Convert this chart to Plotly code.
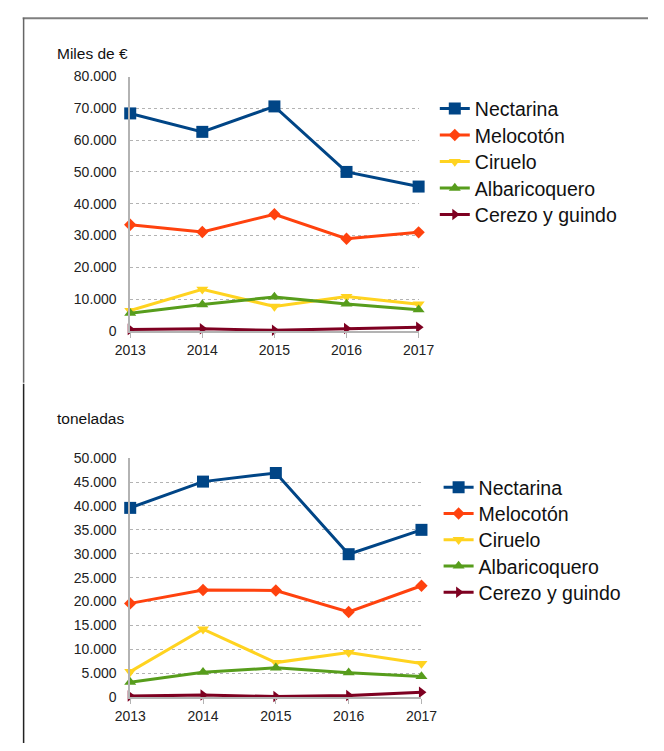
import plotly.graph_objects as go

years = [2013, 2014, 2015, 2016, 2017]
series_names = ["Nectarina", "Melocotón", "Ciruelo", "Albaricoquero", "Cerezo y guindo"]

# Miles de €
valor_nectarina = [68400, 62600, 70600, 50000, 45400]
valor_melocoton = [33400, 31100, 36700, 29000, 31000]
valor_ciruelo = [6400, 13100, 7700, 10800, 8400]
valor_albaricoquero = [5600, 8300, 10700, 8500, 6700]
valor_cerezo = [500, 700, 200, 800, 1200]

# toneladas
ton_nectarina = [39600, 45100, 46900, 29900, 35000]
ton_melocoton = [19600, 22400, 22300, 17800, 23300]
ton_ciruelo = [5300, 14200, 7200, 9300, 7000]
ton_albaricoquero = [3100, 5200, 6100, 5100, 4300]
ton_cerezo = [200, 400, 100, 300, 1000]

colors = ["#004586", "#ff420e", "#ffd320", "#579d1c", "#7e0021"]
symbols = ["square", "diamond", "triangle-down", "triangle-up", "triangle-right"]
sizes = [12, 9.5, 10.5, 10.5, 10]

W, H = 664, 751
def px_x(p):
    return p / W
def px_y(p):
    return 1 - p / H

fig = go.Figure()

top = [valor_nectarina, valor_melocoton, valor_ciruelo, valor_albaricoquero, valor_cerezo]
bot = [ton_nectarina, ton_melocoton, ton_ciruelo, ton_albaricoquero, ton_cerezo]

legend_font = dict(family="Liberation Sans, Arial, sans-serif", size=19.5, color="#111111")
legends = {}

for i, (name, vals) in enumerate(zip(series_names, top)):
    lg = "legend" if i == 0 else f"legend{i + 1}"
    legends[lg] = dict(x=px_x(440), y=px_y(103 + 27.1 * i), xanchor="left", yanchor="middle",
                       font=legend_font, bgcolor="rgba(0,0,0,0)", itemclick=False, visible=True)
    fig.add_trace(go.Scatter(x=years, y=vals, name=name, mode="lines+markers",
                             line=dict(color=colors[i], width=3),
                             marker=dict(symbol=symbols[i], size=sizes[i], color=colors[i]),
                             xaxis="x", yaxis="y", legend=lg, showlegend=True, cliponaxis=False))
for i, (name, vals) in enumerate(zip(series_names, bot)):
    lg = f"legend{i + 6}"
    legends[lg] = dict(x=px_x(444), y=px_y(490 + 26.8 * i), xanchor="left", yanchor="middle",
                       font=legend_font, bgcolor="rgba(0,0,0,0)", itemclick=False, visible=True)
    fig.add_trace(go.Scatter(x=years, y=vals, name=name, mode="lines+markers",
                             line=dict(color=colors[i], width=3),
                             marker=dict(symbol=symbols[i], size=sizes[i], color=colors[i]),
                             xaxis="x2", yaxis="y2", legend=lg, showlegend=True, cliponaxis=False))

axis_font = dict(family="Liberation Sans, Arial, sans-serif", size=14, color="#222222")
common_x = dict(range=[2013, 2017], tickmode="array", tickvals=years, ticktext=[str(y) for y in years],
                showgrid=False, zeroline=False, showline=True, linecolor="#b3b3b3", linewidth=1.5,
                ticks="outside", ticklen=5, tickcolor="#b3b3b3", tickfont=axis_font)
common_y = dict(showgrid=True, gridcolor="#b3b3b3", griddash="dot", gridwidth=1,
                zeroline=False, showline=True, linecolor="#b3b3b3", linewidth=1.5,
                ticks="", tickformat=",d", tickfont=axis_font, ticklabelstandoff=9)

title_font = dict(family="Liberation Sans, Arial, sans-serif", size=15.5, color="#111111")

fig.update_layout(
    width=W, height=H,
    margin=dict(l=0, r=0, t=0, b=0),
    paper_bgcolor="white", plot_bgcolor="white",
    showlegend=True,
    separators=",.",
    xaxis=dict(domain=[px_x(120), px_x(423)], anchor="y", **common_x),
    yaxis=dict(domain=[px_y(330), px_y(70)], anchor="x", range=[0, 80000], dtick=10000, **common_y),
    xaxis2=dict(domain=[px_x(120), px_x(426)], anchor="y2", **common_x),
    yaxis2=dict(domain=[px_y(704), px_y(460)], anchor="x2", range=[0, 50000], dtick=5000, **common_y),
    annotations=[
        dict(text="Miles de €", x=px_x(41), y=px_y(46), xref="paper", yref="paper",
             xanchor="left", yanchor="middle", showarrow=False, font=title_font),
        dict(text="toneladas", x=px_x(41), y=px_y(419), xref="paper", yref="paper",
             xanchor="left", yanchor="middle", showarrow=False, font=title_font),
    ],
    shapes=[
        dict(type="line", xref="paper", yref="paper", x0=px_x(7), x1=1, y0=px_y(10.5), y1=px_y(10.5),
             line=dict(color="#7f7f7f", width=2)),
        dict(type="line", xref="paper", yref="paper", x0=px_x(8), x1=px_x(8), y0=px_y(10), y1=px_y(383),
             line=dict(color="#666666", width=1.5)),
        dict(type="line", xref="paper", yref="paper", x0=px_x(8), x1=px_x(8), y0=px_y(384), y1=0,
             line=dict(color="#222222", width=1.5)),
    ],
    **legends,
)

fig.write_html("out.html", config={"displayModeBar": False},
               post_script="document.body.style.margin='0';document.body.style.overflow='hidden';")
